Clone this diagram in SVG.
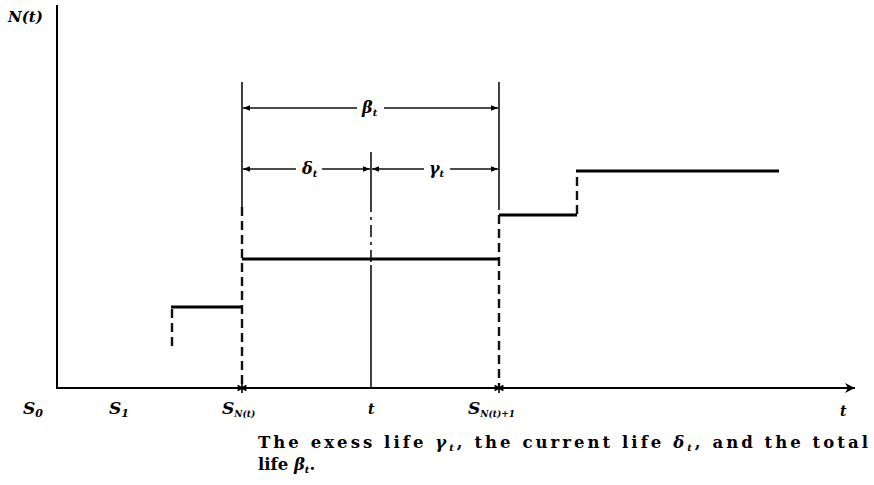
<svg xmlns="http://www.w3.org/2000/svg" width="874" height="485" viewBox="0 0 874 485">
<style>
.ax{stroke:#000;stroke-width:2;fill:none}
.ln{stroke:#111;stroke-width:1.6;fill:none}
.st{stroke:#000;stroke-width:3;fill:none}
.ds{stroke:#111;stroke-width:2.4;fill:none;stroke-dasharray:9 5}
.star{stroke:#000;stroke-width:1.6;fill:none}
.tx{font-family:"DejaVu Serif",serif;font-style:italic;font-weight:bold;fill:#000}
.cap{font-family:"DejaVu Serif",serif;font-weight:bold;fill:#000;font-size:16.5px}
</style>
<defs>
<marker id="ah" viewBox="0 0 10 10" refX="10" refY="5" markerWidth="9" markerHeight="7" markerUnits="userSpaceOnUse" orient="auto-start-reverse">
<path d="M0,1 L10,5 L0,9 Z" fill="#000"/>
</marker>
<marker id="big" viewBox="0 0 10 10" refX="10" refY="5" markerWidth="26" markerHeight="10" markerUnits="userSpaceOnUse" orient="auto">
<path d="M0,0 L10,5 L0,10 L3,5 Z" fill="#000"/>
</marker>
<g id="starShape">
<path class="star" d="M0,-5 L0,5 M-4.5,-2.5 L4.5,2.5 M-4.5,2.5 L4.5,-2.5"/>
</g>
</defs>
<g id="axes">
<line class="ax" x1="57" y1="5" x2="57" y2="389"/>
<line class="ax" x1="56" y1="388" x2="855" y2="388" marker-end="url(#big)"/>
</g>
<g id="connectors">
<line class="ln" x1="242" y1="82" x2="242" y2="207"/>
<line class="ds" x1="242" y1="207" x2="242" y2="386"/>
<line class="ln" x1="499" y1="82" x2="499" y2="210"/>
<line class="ds" x1="499" y1="215" x2="499" y2="386"/>
<line class="ln" x1="371" y1="152" x2="371" y2="200"/>
<line class="ln" x1="371" y1="200" x2="371" y2="265" stroke-dasharray="12 5 3 5"/>
<line class="ln" x1="371" y1="265" x2="371" y2="388"/>
<line class="ln" x1="243" y1="108" x2="357" y2="108" marker-start="url(#ah)"/>
<line class="ln" x1="384" y1="108" x2="498" y2="108" marker-end="url(#ah)"/>
<line class="ln" x1="243" y1="169" x2="296" y2="169" marker-start="url(#ah)"/>
<line class="ln" x1="322" y1="169" x2="370" y2="169" marker-end="url(#ah)"/>
<line class="ln" x1="372" y1="169" x2="424" y2="169" marker-start="url(#ah)"/>
<line class="ln" x1="450" y1="169" x2="498" y2="169" marker-end="url(#ah)"/>
</g>
<g id="steps">
<line class="ds" x1="172" y1="309" x2="172" y2="351"/>
<line class="st" x1="171" y1="307" x2="243" y2="307"/>
<line class="st" x1="242" y1="259" x2="499" y2="259"/>
<line class="st" x1="499" y1="215" x2="577" y2="215"/>
<line class="ds" x1="577" y1="214" x2="577" y2="173"/>
<line class="st" x1="576" y1="171" x2="779" y2="171"/>
</g>
<g id="stars">
<use href="#starShape" x="242" y="388"/>
<use href="#starShape" x="499" y="388"/>
</g>
<g id="labels" class="tx">
<text x="8" y="22" font-size="15">N(t)</text>
<text x="362" y="113" font-size="16">β<tspan font-size="10" dy="3">t</tspan></text>
<text x="302" y="174" font-size="16">δ<tspan font-size="10" dy="3">t</tspan></text>
<text x="429" y="174" font-size="16">γ<tspan font-size="10" dy="3">t</tspan></text>
<text x="23" y="414" font-size="17">S<tspan font-size="11" dy="3">0</tspan></text>
<text x="109" y="414" font-size="17">S<tspan font-size="11" dy="3">1</tspan></text>
<text x="222" y="414" font-size="17">S<tspan font-size="9" dy="3">N(t)</tspan></text>
<text x="368" y="414" font-size="14">t</text>
<text x="468" y="414" font-size="17">S<tspan font-size="9" dy="3">N(t)+1</tspan></text>
<text x="840" y="416" font-size="14">t</text>
</g>
<g id="caption" class="cap">
<text x="258" y="448" textLength="610" lengthAdjust="spacing">The exess life <tspan font-style="italic">γ<tspan font-size="10" dy="3">t</tspan></tspan><tspan dy="-3">, the current life </tspan><tspan font-style="italic">δ<tspan font-size="10" dy="3">t</tspan></tspan><tspan dy="-3">, and the total</tspan></text>
<text x="258" y="470">life <tspan font-style="italic">β<tspan font-size="10" dy="3">t</tspan></tspan><tspan dy="-3">.</tspan></text>
</g>
</svg>
